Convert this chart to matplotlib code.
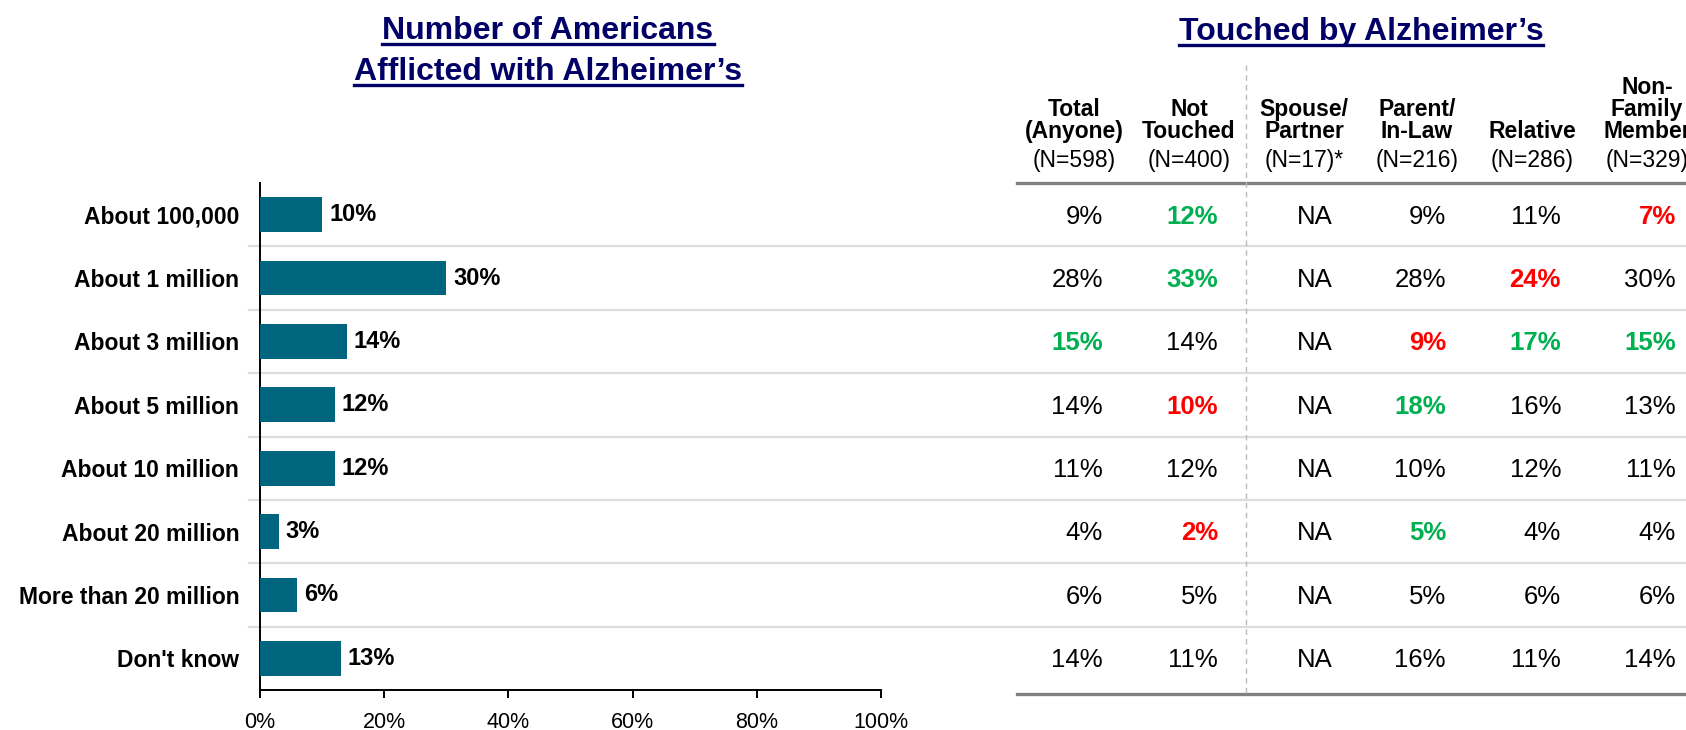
import matplotlib
matplotlib.use('Agg')
import matplotlib.pyplot as plt
from matplotlib.lines import Line2D

# ---------------- data ----------------
categories = ["About 100,000", "About 1 million", "About 3 million", "About 5 million",
              "About 10 million", "About 20 million", "More than 20 million", "Don't know"]
values = [10, 30, 14, 12, 12, 3, 6, 13]
x_ticks = [0, 20, 40, 60, 80, 100]

col_titles = [["Total", "(Anyone)"], ["Not", "Touched"], ["Spouse/", "Partner"],
              ["Parent/", "In-Law"], ["Relative"], ["Non-", "Family", "Member"]]
col_n = ["(N=598)", "(N=400)", "(N=17)*", "(N=216)", "(N=286)", "(N=329)"]

total_anyone = ["9%", "28%", "15%", "14%", "11%", "4%", "6%", "14%"]
not_touched = ["12%", "33%", "14%", "10%", "12%", "2%", "5%", "11%"]
spouse_partner = ["NA"] * 8
parent_inlaw = ["9%", "28%", "9%", "18%", "10%", "5%", "5%", "16%"]
relative = ["11%", "24%", "17%", "16%", "12%", "4%", "6%", "11%"]
non_family = ["7%", "30%", "15%", "13%", "11%", "4%", "6%", "14%"]

# significance markers: 'g' higher (green), 'r' lower (red), '' none
sig_total = ["", "", "g", "", "", "", "", ""]
sig_not = ["g", "g", "", "r", "", "r", "", ""]
sig_spouse = [""] * 8
sig_parent = ["", "", "r", "g", "", "g", "", ""]
sig_relative = ["", "r", "g", "", "", "", "", ""]
sig_nonfam = ["r", "", "g", "", "", "", "", ""]

table_cols = [total_anyone, not_touched, spouse_partner, parent_inlaw, relative, non_family]
table_sig = [sig_total, sig_not, sig_spouse, sig_parent, sig_relative, sig_nonfam]

# ---------------- style ----------------
W, H, DPI = 1686, 730, 100
BAR_COLOR = "#00657F"
NAVY = "#000066"
GREEN = "#00B050"
RED = "#FF0000"
SIG_COLORS = {"g": GREEN, "r": RED, "": "black"}

plt.rcParams['font.family'] = ['Liberation Sans', 'DejaVu Sans']

fig = plt.figure(figsize=(W / DPI, H / DPI), dpi=DPI)
fig.patch.set_facecolor('white')


def fx(px):
    return px / W


def fy(py):
    return 1 - py / H


AX_TOP, AX_BOT = 183, 690
AX_L, AX_R = 260, 881

# table / separator axes (pixel x, row-based y)
axt = fig.add_axes([0, fy(AX_BOT), 1, fy(AX_TOP) - fy(AX_BOT)])
axt.set_xlim(0, W)
axt.set_ylim(len(categories) - 0.5, -0.5)
axt.axis('off')

# bar axes
ax = fig.add_axes([fx(AX_L), fy(AX_BOT), fx(AX_R) - fx(AX_L), fy(AX_TOP) - fy(AX_BOT)])
ax.patch.set_visible(False)
ypos = list(range(len(categories)))
bars = ax.barh(ypos, values, height=0.55, color=BAR_COLOR, zorder=3)
ax.set_xlim(0, 100)
ax.set_ylim(len(categories) - 0.5, -0.5)
for sp in ['top', 'right']:
    ax.spines[sp].set_visible(False)
ax.spines['left'].set_linewidth(1.4)
ax.spines['bottom'].set_linewidth(1.4)
ax.set_yticks(ypos)
ax.set_yticklabels(categories, fontsize=16.5, fontweight='bold')
ax.tick_params(axis='y', length=0, pad=15)
ax.set_xticks(x_ticks)
ax.set_xticklabels([f"{v}%" for v in x_ticks], fontsize=15.5)
ax.tick_params(axis='x', length=6, width=1.4, pad=10, direction='out')
for rect, v in zip(bars, values):
    ax.annotate(f"{v}%", (rect.get_width(), rect.get_y() + rect.get_height() / 2),
                xytext=(5, 0), textcoords='offset points', va='center', ha='left',
                fontsize=17, fontweight='bold', color='black')

# row separators across whole width
for i in range(len(categories) - 1):
    axt.plot([249, W], [i + 0.5, i + 0.5], color='#DDDDDD', lw=1.6, clip_on=False, zorder=1)

# table header/footer rules
row_px = (AX_BOT - AX_TOP) / len(categories)
axt.plot([1017, W], [-0.5, -0.5], color='#808080', lw=2.4, clip_on=False)
axt.plot([1017, W], [len(categories) - 0.5 + 4 / row_px] * 2, color='#808080', lw=2.4, clip_on=False)
# dashed divider
top_y = -0.5 - (AX_TOP - 65) / row_px
axt.plot([1246, 1246], [top_y, len(categories) - 0.5 + 4 / row_px], color='#BBBBBB', lw=1,
         ls=(0, (4, 3)), clip_on=False)

# table values
col_centers = [1074, 1189, 1304, 1417, 1532, 1647]
for c, (col, sig) in enumerate(zip(table_cols, table_sig)):
    xr = col_centers[c] + 29
    for r, (val, s) in enumerate(zip(col, sig)):
        axt.text(xr, r + 0.03, val, ha='right', va='center', fontsize=18.5,
                 fontweight='bold' if s else 'normal', color=SIG_COLORS[s], clip_on=False)

# column headers
for c, (lines, n) in enumerate(zip(col_titles, col_n)):
    fig.text(fx(col_centers[c]), fy(167), n, ha='center', va='baseline', fontsize=16.5)
    for k, line in enumerate(reversed(lines)):
        fig.text(fx(col_centers[c]), fy(138 - 22 * k), line, ha='center', va='baseline',
                 fontsize=16.5, fontweight='bold')

# titles
titles = [("Number of Americans", 548, 39), ("Afflicted with Alzheimer\u2019s", 548, 80),
          ("Touched by Alzheimer\u2019s", 1361, 40)]
title_objs = []
for txt, cx, base in titles:
    t = fig.text(fx(cx), fy(base), txt, ha='center', va='baseline', fontsize=23,
                 fontweight='bold', color=NAVY)
    title_objs.append((t, base))

fig.canvas.draw()
renderer = fig.canvas.get_renderer()
for t, base in title_objs:
    bb = t.get_window_extent(renderer)
    fig.add_artist(Line2D([bb.x0 / W, bb.x1 / W], [fy(base + 4.5), fy(base + 4.5)],
                          color=NAVY, lw=2.4, transform=fig.transFigure))

fig.savefig("out.png", dpi=DPI, facecolor='white')
